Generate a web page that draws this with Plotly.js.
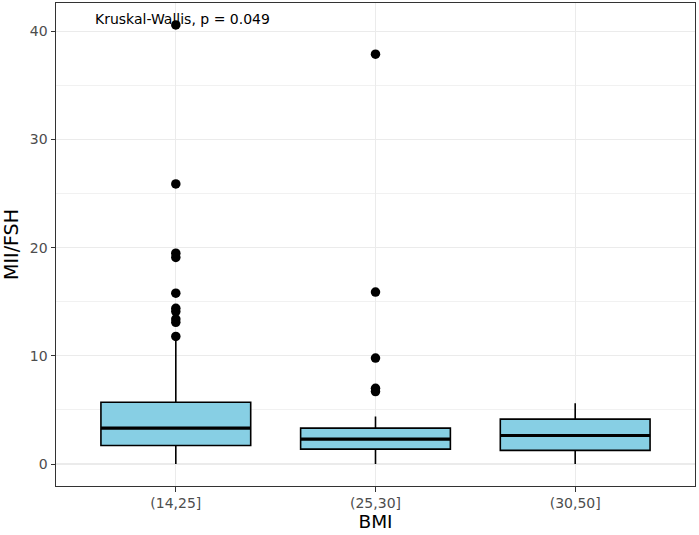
<!DOCTYPE html>
<html>
<head>
<meta charset="utf-8">
<script src="https://cdn.plot.ly/plotly-3.0.1.min.js"></script>
<style>html,body{margin:0;padding:0;background:#fff;}#chart{width:699px;height:535px;}</style>
</head>
<body>
<div id="chart"></div>
<script>
const categories = ["(14,25]", "(25,30]", "(30,50]"];
const q1 = [1.72, 1.38, 1.26];
const median = [3.32, 2.31, 2.64];
const q3 = [5.72, 3.32, 4.15];
const lowerWhisker = [0.0, 0.0, 0.0];
const upperWhisker = [11.4, 4.4, 5.63];
const outliers1 = [40.6, 25.9, 19.5, 19.1, 15.8, 14.4, 14.1, 13.4, 13.1, 11.8];
const outliers2 = [37.9, 15.9, 9.8, 7.0, 6.7];
const outliers3 = [];
const yTicks = [0, 10, 20, 30, 40];
const annotationText = "Kruskal-Wallis, p = 0.049";

const boxWidth = 0.75;
const font = "DejaVu Sans, Verdana, sans-serif";

const boxTrace = {
  type: "box",
  x: categories,
  q1: q1, median: median, q3: q3,
  lowerfence: lowerWhisker, upperfence: upperWhisker,
  width: boxWidth,
  boxpoints: false,
  fillcolor: "#87CFE4",
  line: {color: "#000000", width: 1.6},
  whiskerwidth: 0,
  hoverinfo: "skip",
  showlegend: false
};

const outX = [], outY = [];
[outliers1, outliers2, outliers3].forEach((arr, i) => {
  arr.forEach(v => { outX.push(categories[i]); outY.push(v); });
});
const outTrace = {
  type: "scatter", mode: "markers",
  x: outX, y: outY,
  marker: {color: "#000000", size: 9.5},
  hoverinfo: "skip", showlegend: false
};

const medianShapes = median.map((m, i) => ({
  type: "line", xref: "x", yref: "y",
  x0: i - boxWidth / 2, x1: i + boxWidth / 2, y0: m, y1: m,
  line: {color: "#000000", width: 3.2}
}));

const layout = {
  width: 699, height: 535,
  margin: {l: 56, r: 4, t: 3, b: 49},
  paper_bgcolor: "#ffffff", plot_bgcolor: "#ffffff",
  font: {family: font, color: "#4D4D4D", size: 14},
  xaxis: {
    type: "category",
    range: [-0.6, 2.6],
    showgrid: true, gridcolor: "#EBEBEB", gridwidth: 1.1,
    showline: true, mirror: true, linecolor: "#333333", linewidth: 1,
    ticks: "outside", ticklen: 4.5, tickcolor: "#333333",
    tickfont: {family: font, size: 14, color: "#4D4D4D"},
    zeroline: false,
    title: {text: "BMI", font: {family: font, size: 18.5, color: "#000000"}, standoff: 4}
  },
  yaxis: {
    range: [-2.03, 42.63],
    tickvals: yTicks,
    showgrid: true, gridcolor: "#EBEBEB", gridwidth: 1.1,
    minor: {dtick: 5, showgrid: true, gridcolor: "#EEEEEE", gridwidth: 0.8, ticks: ""},
    showline: true, mirror: true, linecolor: "#333333", linewidth: 1,
    ticks: "outside", ticklen: 4.5, tickcolor: "#333333",
    tickfont: {family: font, size: 14, color: "#4D4D4D"},
    zeroline: false,
    title: {text: "MII/FSH", font: {family: font, size: 19, color: "#000000"}, standoff: 9}
  },
  shapes: medianShapes,
  annotations: [{
    text: annotationText, xref: "paper", yref: "paper",
    x: 0.058, y: 0.966, xanchor: "left", yanchor: "middle",
    showarrow: false,
    font: {family: font, size: 14, color: "#000000"}
  }]
};

Plotly.newPlot("chart", [boxTrace, outTrace], layout, {displayModeBar: false, staticPlot: true});
</script>
</body>
</html>
